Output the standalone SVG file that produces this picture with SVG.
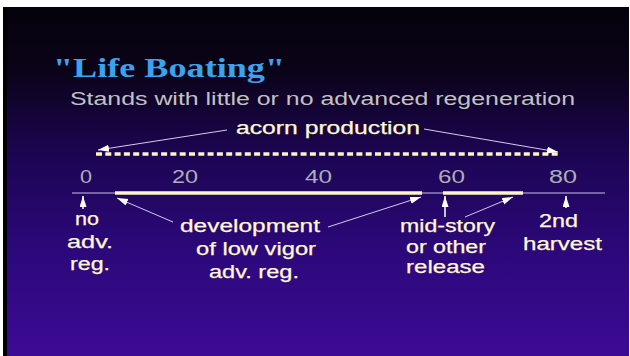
<svg xmlns="http://www.w3.org/2000/svg" width="630" height="356" viewBox="0 0 630 356">
<defs>
<linearGradient id="bg" x1="0" y1="0" x2="0" y2="1">
<stop offset="0" stop-color="#04020c"/>
<stop offset="0.18" stop-color="#0b0318"/>
<stop offset="0.42" stop-color="#1b0552"/>
<stop offset="0.7" stop-color="#2c087a"/>
<stop offset="1" stop-color="#3c0b95"/>
</linearGradient>
<marker id="ah" markerUnits="userSpaceOnUse" markerWidth="12" markerHeight="8" refX="11" refY="3.5" orient="auto">
<path d="M0,0 L11,3.5 L0,7 z" fill="#ffffff"/>
</marker>
<style>
.lbl{font-family:"Liberation Sans",Arial,sans-serif;font-size:18px;fill:#fff8d2;stroke:#fff8d2;stroke-width:0.25;}
.num{font-family:"Liberation Sans",Arial,sans-serif;font-size:18px;fill:#aeaeb6;}
.ptr{stroke:#d4cced;stroke-width:1;fill:none;marker-end:url(#ah);}
.up{stroke:#ffffff;stroke-width:1.5;fill:none;marker-end:url(#ah);}
</style>
</defs>
<rect x="0" y="0" width="630" height="356" fill="#ffffff"/>
<rect x="3" y="7" width="626" height="349" fill="url(#bg)"/>
<rect x="3" y="7" width="4" height="349" fill="#000000"/>

<g id="title">
<text x="53" y="77" textLength="232" lengthAdjust="spacingAndGlyphs" font-family="'Liberation Serif','Times New Roman',serif" font-weight="bold" font-size="27" fill="#3aa2ee">"Life Boating"</text>
</g>
<g id="subtitle">
<text x="70" y="105" textLength="505" lengthAdjust="spacingAndGlyphs" font-family="'Liberation Sans',Arial,sans-serif" font-size="18" fill="#c2c2c2">Stands with little or no advanced regeneration</text>
</g>

<g id="axis">
<line x1="72" y1="193" x2="605" y2="193" stroke="#cbbfe6" stroke-width="1"/>
<line x1="115" y1="193" x2="422" y2="193" stroke="#fff6c4" stroke-width="3.5"/>
<line x1="443" y1="193" x2="523" y2="193" stroke="#fff6c4" stroke-width="3.5"/>
<line x1="96" y1="154" x2="558" y2="154" stroke="#fff4c2" stroke-width="3.5" stroke-dasharray="6 3.3"/>
</g>

<g id="ticks">
<text class="num" x="80" y="183" textLength="12" lengthAdjust="spacingAndGlyphs">0</text>
<text class="num" x="172" y="183" textLength="26" lengthAdjust="spacingAndGlyphs">20</text>
<text class="num" x="305" y="183" textLength="27" lengthAdjust="spacingAndGlyphs">40</text>
<text class="num" x="438" y="183" textLength="27" lengthAdjust="spacingAndGlyphs">60</text>
<text class="num" x="549" y="183" textLength="28" lengthAdjust="spacingAndGlyphs">80</text>
</g>

<g id="acorn">
<text class="lbl" x="236" y="134" textLength="184" lengthAdjust="spacingAndGlyphs">acorn production</text>
</g>
<g id="noadv">
<text class="lbl" x="75" y="225" textLength="24" lengthAdjust="spacingAndGlyphs">no</text>
<text class="lbl" x="67" y="247.5" textLength="46" lengthAdjust="spacingAndGlyphs">adv.</text>
<text class="lbl" x="70" y="269.5" textLength="40" lengthAdjust="spacingAndGlyphs">reg.</text>
</g>
<g id="development">
<text class="lbl" x="180" y="232" textLength="140" lengthAdjust="spacingAndGlyphs">development</text>
<text class="lbl" x="196" y="255" textLength="120" lengthAdjust="spacingAndGlyphs">of low vigor</text>
<text class="lbl" x="209" y="278" textLength="90" lengthAdjust="spacingAndGlyphs">adv. reg.</text>
</g>
<g id="midstory">
<text class="lbl" x="400" y="232" textLength="95" lengthAdjust="spacingAndGlyphs">mid-story</text>
<text class="lbl" x="406" y="252.5" textLength="80" lengthAdjust="spacingAndGlyphs">or other</text>
<text class="lbl" x="406" y="272.5" textLength="79" lengthAdjust="spacingAndGlyphs">release</text>
</g>
<g id="harvest">
<text class="lbl" x="539" y="227" textLength="39" lengthAdjust="spacingAndGlyphs">2nd</text>
<text class="lbl" x="523" y="250" textLength="79" lengthAdjust="spacingAndGlyphs">harvest</text>
</g>

<g id="connectors">
<line class="ptr" x1="227" y1="130" x2="98" y2="150"/>
<line class="ptr" x1="424" y1="129" x2="558" y2="152"/>
<line class="up" x1="83" y1="209" x2="83" y2="196"/>
<line class="ptr" x1="173" y1="222" x2="117" y2="198"/>
<line class="ptr" x1="328" y1="227" x2="421" y2="197"/>
<line class="up" x1="445" y1="217" x2="445" y2="196"/>
<line class="ptr" x1="465" y1="217" x2="513" y2="197"/>
<line class="up" x1="566" y1="208" x2="566" y2="196"/>
</g>
</svg>
